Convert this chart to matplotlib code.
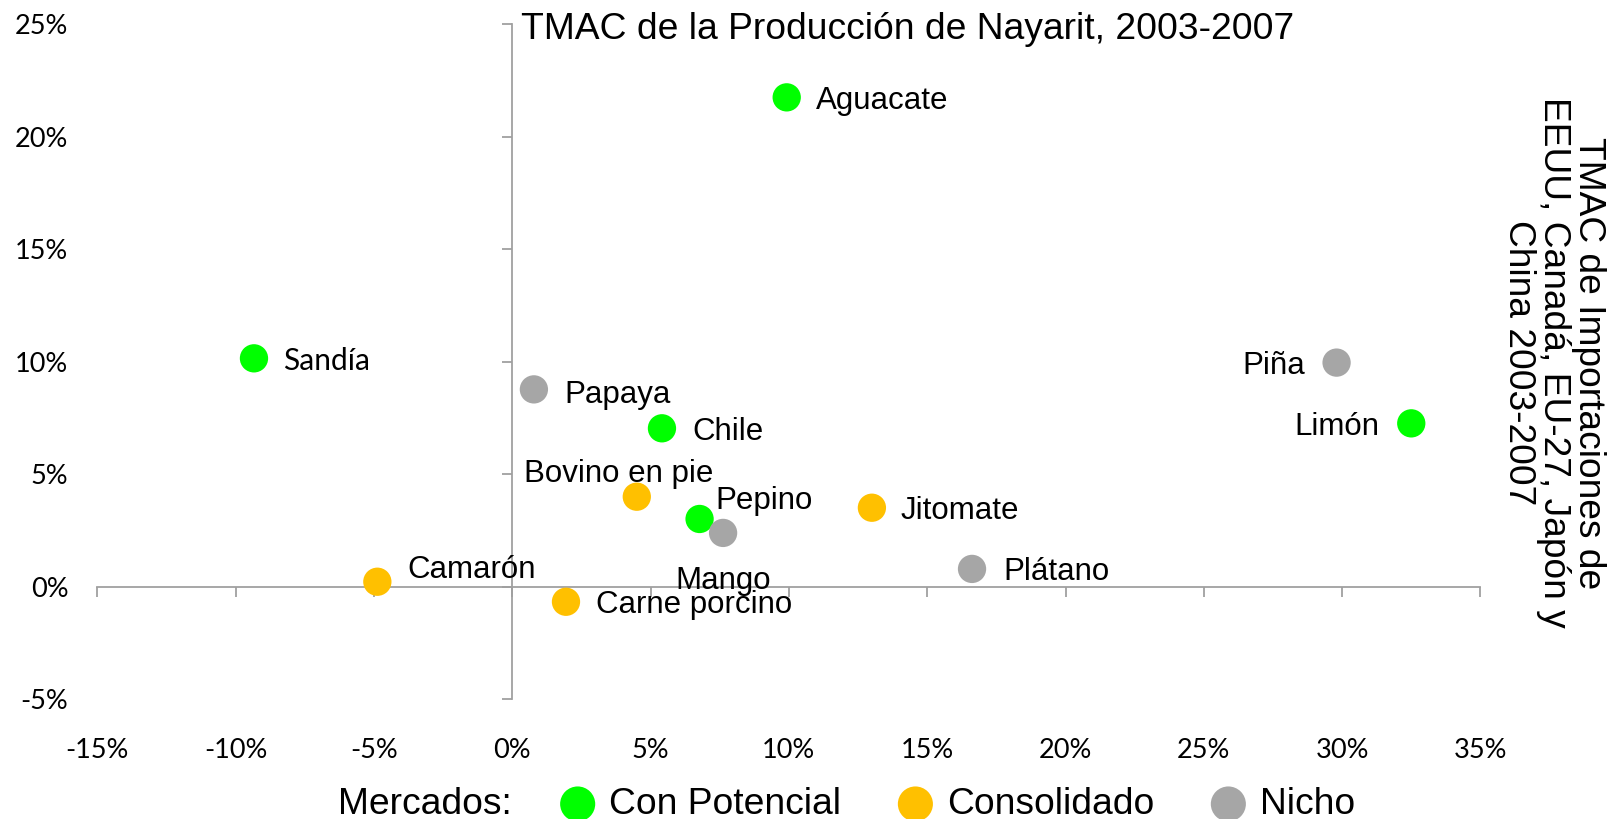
import matplotlib
matplotlib.use('Agg')
import matplotlib.pyplot as plt
from matplotlib.ticker import MultipleLocator, PercentFormatter

plt.rcParams['axes.unicode_minus'] = False
plt.rcParams['font.family'] = ['Liberation Sans', 'DejaVu Sans']

# datos (TMAC en %)
productos = ['Aguacate', 'Sandía', 'Chile', 'Pepino', 'Limón',
             'Bovino en pie', 'Jitomate', 'Camarón', 'Carne porcino',
             'Papaya', 'Mango', 'Plátano', 'Piña']
mercado = ['Con Potencial'] * 5 + ['Consolidado'] * 4 + ['Nicho'] * 4
tmac_prod = [9.92, -9.34, 5.41, 6.77, 32.5,
             4.50, 13.0, -4.88, 1.94,
             0.78, 7.62, 16.62, 29.8]
tmac_imp = [21.75, 10.15, 7.04, 3.01, 7.26,
            4.00, 3.51, 0.22, -0.67,
            8.77, 2.39, 0.79, 9.96]

grupos = ['Con Potencial', 'Consolidado', 'Nicho']
colores = {'Con Potencial': '#00FF00', 'Consolidado': '#FFC000', 'Nicho': '#A6A6A6'}

# donde va cada etiqueta (pixeles desde el punto)
etiq = {
    'Aguacate': (29, 0, 'left'),
    'Sandía': (29, 0, 'left'),
    'Chile': (30, 0, 'left'),
    'Pepino': (16, 21, 'left'),
    'Limón': (-32, 0, 'right'),
    'Bovino en pie': (-18, 26, 'center'),
    'Jitomate': (29, 0, 'left'),
    'Camarón': (30, 15, 'left'),
    'Carne porcino': (30, 0, 'left'),
    'Papaya': (30, -2, 'left'),
    'Mango': (0, -45, 'center'),
    'Plátano': (31, 0, 'left'),
    'Piña': (-31, 0, 'right'),
}

fig = plt.figure(figsize=(16.13, 8.19), dpi=100)
ax = fig.add_axes([0.0604, 0.1463, 0.8574, 0.8241])
ax.set_xlim(-15, 35)
ax.set_ylim(-5, 25)

eje = '#A0A0A0'
for s in ['top', 'right']:
    ax.spines[s].set_visible(False)
for s in ['left', 'bottom']:
    ax.spines[s].set_position(('data', 0))
    ax.spines[s].set_color(eje)
    ax.spines[s].set_linewidth(1.3)
ax.xaxis.set_major_locator(MultipleLocator(5))
ax.yaxis.set_major_locator(MultipleLocator(5))
ax.tick_params(direction='out', length=7, width=1.3, color=eje,
               labelbottom=False, labelleft=False)
ax.patch.set_visible(False)

# etiquetas de los ejes en los bordes
lab = fig.add_axes(ax.get_position(), sharex=ax, sharey=ax)
lab.patch.set_visible(False)
for s in lab.spines.values():
    s.set_visible(False)
lab.xaxis.set_major_formatter(PercentFormatter(decimals=0))
lab.yaxis.set_major_formatter(PercentFormatter(decimals=0))
lab.tick_params(axis='y', length=0, pad=21, labelsize=19.5, labelfontfamily='Lato')
lab.tick_params(axis='x', length=0, pad=28, labelsize=19.5, labelfontfamily='Lato')
lab.set_zorder(-1)

handles = {}
for g in grupos:
    xs = [x for x, m in zip(tmac_prod, mercado) if m == g]
    ys = [y for y, m in zip(tmac_imp, mercado) if m == g]
    handles[g] = ax.scatter(xs, ys, s=415, color=colores[g], edgecolors='none', zorder=3)

for n, x, y in zip(productos, tmac_prod, tmac_imp):
    dx, dy, ha = etiq[n]
    fam = 'Lato' if n == 'Sandía' else 'Liberation Sans'
    ax.annotate(n, (x, y), xytext=(dx, dy), textcoords='offset pixels',
                ha=ha, va='center_baseline', fontsize=22.5 if n != 'Sandía' else 21.5,
                family=fam, zorder=4)

fig.text(0.3228, 0.952, 'TMAC de la Producción de Nayarit, 2003-2007',
         fontsize=26.8, ha='left', va='baseline')
fig.text(0.963, 0.557, 'TMAC de Importaciones de\nEEUU, Canadá, EU-27, Japón y\nChina 2003-2007',
         fontsize=26.7, rotation=270, ha='center', va='center',
         multialignment='center', linespacing=1.0)

fig.text(0.2095, 0.006, 'Mercados:', fontsize=26.8, ha='left', va='baseline')
fig.legend([handles[g] for g in grupos], grupos, loc='center left',
           bbox_to_anchor=(0.3466, 0.018), ncol=3, frameon=False,
           fontsize=26.8, handlelength=1.0, handletextpad=0.34,
           columnspacing=1.5, borderpad=0, borderaxespad=0, markerscale=1.24)

fig.savefig('out.png', dpi=100)
